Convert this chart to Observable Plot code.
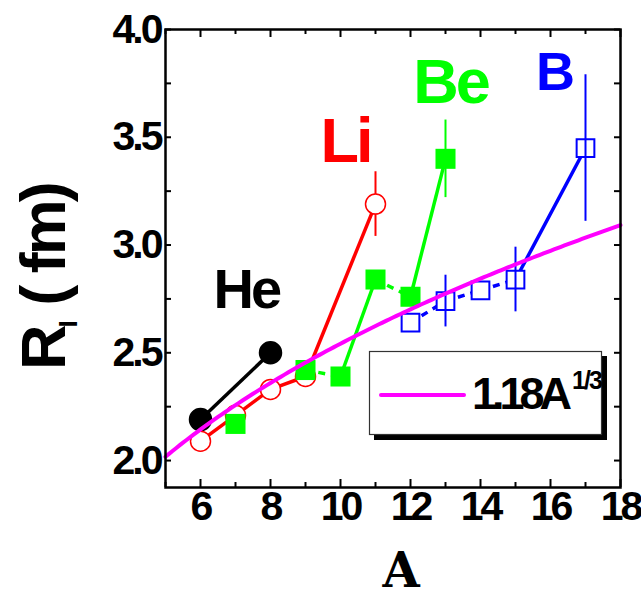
<!DOCTYPE html>
<html>
<head>
<meta charset="utf-8">
<script src="https://cdn.jsdelivr.net/npm/d3@7"></script>
<script src="https://cdn.jsdelivr.net/npm/@observablehq/plot@0.6"></script>
<style>
  body { margin: 0; background: #fff; }
  #chart svg { display: block; overflow: visible; }
  g[aria-label="y-axis tick label"] text,
  g[aria-label="x-axis tick label"] text { letter-spacing: -3px; }
  g.iso-label text { letter-spacing: -3px; }
</style>
</head>
<body>
<div id="chart"></div>
<script>
// Interaction radii R_I (fm) of He, Li, Be and B isotopes versus mass number A
const heA = [6, 8];
const heR = [2.19, 2.50];

const liA = [6, 7, 8, 9, 11];
const liR = [2.09, 2.21, 2.33, 2.39, 3.19];
const liErr = [0, 0, 0, 0, 0.15];

const beA = [7, 9, 10, 11, 12, 13];
const beR = [2.17, 2.42, 2.39, 2.84, 2.76, 3.40];
const beErr = [0, 0, 0, 0, 0, 0.18];

const bA = [12, 13, 14, 15, 17];
const bR = [2.64, 2.74, 2.79, 2.84, 3.45];
const bErr = [0, 0.12, 0, 0.15, 0.34];

// Connections between isotopes: [from A, to A, dashed]
const heLinks = [[6, 8, false]];
const liLinks = [[6, 7, false], [7, 8, false], [8, 9, false], [9, 11, false]];
const beLinks = [[9, 10, true], [10, 11, false], [11, 12, true], [12, 13, false]];
const bLinks = [[12, 13, true], [13, 14, true], [14, 15, true], [15, 17, false]];

// r0 A^(1/3) systematics
const r0 = 1.18;

// Axis ticks
const xTickLabels = [6, 8, 10, 12, 14, 16, 18];
const xMinorTicks = [5, 7, 9, 11, 13, 15, 17];
const yTickLabels = [2.0, 2.5, 3.0, 3.5, 4.0];
const yMinorTicks = [2.25, 2.75, 3.25, 3.75];

const W = 641, H = 599;
const mL = 165, mR = 21, mT = 29, mB = 112;
const iw = W - mL - mR, ih = H - mT - mB;

const rows = (A, R, E) => A.map((a, i) => ({A: a, R: R[i], E: E ? E[i] : 0}));
const he = rows(heA, heR);
const li = rows(liA, liR, liErr);
const be = rows(beA, beR, beErr);
const bo = rows(bA, bR, bErr);

const linkRows = (pts, links) => links.map(([a, b, dashed]) => {
  const p = pts.find(d => d.A === a), q = pts.find(d => d.A === b);
  return {x1: p.A, y1: p.R, x2: q.A, y2: q.R, dashed};
});

const curve = d3.range(5, 18.001, 0.1).map(A => ({A, R: r0 * Math.cbrt(A)}));

const RED = "#ff0000", GREEN = "#00ff00", BLUE = "#0000ff", MAGENTA = "#ff00ff";
const SANS = "'Liberation Sans', Arial, sans-serif";

function linkMarks(pts, links, color) {
  const L = linkRows(pts, links);
  return [
    Plot.link(L.filter(d => !d.dashed), {x1: "x1", y1: "y1", x2: "x2", y2: "y2", stroke: color, strokeWidth: 3.5}),
    Plot.link(L.filter(d => d.dashed), {x1: "x1", y1: "y1", x2: "x2", y2: "y2", stroke: color, strokeWidth: 3.5, strokeDasharray: "7,6"})
  ];
}
function errMarks(pts, color) {
  return Plot.ruleX(pts.filter(d => d.E > 0), {x: "A", y1: d => d.R - d.E, y2: d => d.R + d.E, stroke: color, strokeWidth: 2});
}

const chart = Plot.plot({
  width: W, height: H,
  marginLeft: mL, marginRight: mR, marginTop: mT, marginBottom: mB,
  style: {fontFamily: SANS, background: "#fff"},
  x: {domain: [5, 18]},
  y: {domain: [1.875, 4.0]},
  marks: [
    // inward ticks on all four sides
    Plot.tickY([...yTickLabels, ...yMinorTicks], {y: d => d, stroke: "black", strokeWidth: 2, insetRight: iw - 6}),
    Plot.tickY([...yTickLabels, ...yMinorTicks], {y: d => d, stroke: "black", strokeWidth: 2, insetLeft: iw - 6}),
    Plot.tickX(xTickLabels, {x: d => d, stroke: "black", strokeWidth: 2, insetTop: ih - 8}),
    Plot.tickX(xMinorTicks, {x: d => d, stroke: "black", strokeWidth: 2, insetTop: ih - 5}),
    Plot.tickX(xTickLabels, {x: d => d, stroke: "black", strokeWidth: 2, insetBottom: ih - 8}),
    Plot.tickX(xMinorTicks, {x: d => d, stroke: "black", strokeWidth: 2, insetBottom: ih - 5}),
    Plot.axisY({ticks: yTickLabels, tickSize: 0, tickPadding: 5, tickFormat: d3.format(".1f"),
      fontSize: 41, fontWeight: "bold", label: null}),
    Plot.axisX({ticks: xTickLabels, tickSize: 0, tickPadding: 3,
      fontSize: 41, fontWeight: "bold", label: null}),

    ...linkMarks(he, heLinks, "black"),
    ...linkMarks(li, liLinks, RED),
    ...linkMarks(be, beLinks, GREEN),
    ...linkMarks(bo, bLinks, BLUE),

    errMarks(li, RED),
    errMarks(be, GREEN),

    Plot.dot(he, {x: "A", y: "R", r: 11, fill: "black", stroke: "black"}),
    Plot.dot(li, {x: "A", y: "R", r: 10, fill: "white", stroke: RED, strokeWidth: 1.5}),
    Plot.dot(be, {x: "A", y: "R", r: 11.3, symbol: "square", fill: GREEN}),
    Plot.dot(bo, {x: "A", y: "R", r: 10, symbol: "square", fill: "white", stroke: BLUE, strokeWidth: 2}),
    errMarks(bo, BLUE),

    Plot.line(curve, {x: "A", y: "R", stroke: MAGENTA, strokeWidth: 4}),

    // element names
    Plot.text(["He"], {x: 7.31, y: 2.71, text: d => d, fill: "black", fontSize: 56, fontWeight: "bold", lineAnchor: "bottom", textAnchor: "middle", className: "iso-label"}),
    Plot.text(["Li"], {x: 10.14, y: 3.383, text: d => d, fill: RED, fontSize: 63, fontWeight: "bold", lineAnchor: "bottom", textAnchor: "middle", className: "iso-label"}),
    Plot.text(["Be"], {x: 13.14, y: 3.657, text: d => d, fill: GREEN, fontSize: 63, fontWeight: "bold", lineAnchor: "bottom", textAnchor: "middle", className: "iso-label"}),
    Plot.text(["B"], {x: 16.1, y: 3.717, text: d => d, fill: BLUE, fontSize: 54, fontWeight: "bold", lineAnchor: "bottom", textAnchor: "middle", className: "iso-label"}),

    Plot.frame({stroke: "black", strokeWidth: 2.5})
  ]
});

document.getElementById("chart").appendChild(chart);
const svg = d3.select(chart);

// y-axis title: R_I ( fm)
const yt = svg.append("text")
  .attr("transform", "translate(65,370) rotate(-90)")
  .attr("text-anchor", "start")
  .attr("font-family", SANS)
  .attr("font-weight", "bold")
  .attr("font-size", 63)
  .attr("letter-spacing", "-3px")
  .attr("fill", "black");
yt.append("tspan").text("R");
yt.append("tspan").attr("font-size", 26).attr("dy", 12).attr("letter-spacing", "0px").text("I");
yt.append("tspan").attr("dy", -12).text(" ( fm)");

// x-axis title
svg.append("text")
  .attr("x", 401).attr("y", 587)
  .attr("text-anchor", "middle")
  .attr("font-family", "'DejaVu Serif', serif")
  .attr("font-weight", "bold")
  .attr("font-size", 48)
  .attr("fill", "black")
  .text("A");

// legend box with drop shadow
const lg = svg.append("g");
lg.append("rect").attr("x", 374).attr("y", 356).attr("width", 233).attr("height", 84).attr("fill", "black");
lg.append("rect").attr("x", 369.5).attr("y", 351.5).attr("width", 232).attr("height", 83)
  .attr("fill", "white").attr("stroke", "#333").attr("stroke-width", 1.2);
lg.append("line").attr("x1", 381).attr("x2", 464).attr("y1", 395).attr("y2", 395)
  .attr("stroke", MAGENTA).attr("stroke-width", 4).attr("stroke-linecap", "round");
const lt = lg.append("text")
  .attr("x", 472).attr("y", 409)
  .attr("text-anchor", "start")
  .attr("font-family", SANS)
  .attr("font-weight", "bold")
  .attr("font-size", 45)
  .attr("letter-spacing", "-5px")
  .attr("fill", "black");
lt.append("tspan").text("1.18A");
lt.append("tspan").attr("font-size", 25).attr("letter-spacing", "-2px").attr("dx", 5).attr("dy", -20).text("1/3");
</script>
</body>
</html>
